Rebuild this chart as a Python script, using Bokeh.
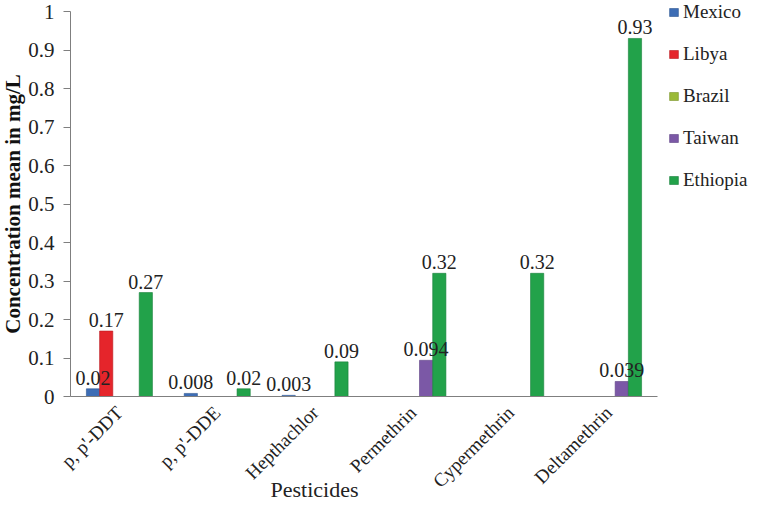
from math import pi
from bokeh.plotting import figure
from bokeh.models import (ColumnDataSource, Range1d, FixedTicker,
                          NumeralTickFormatter, Legend, LegendItem, Label)
from bokeh.core.properties import value
from bokeh.embed import file_html
from bokeh.resources import INLINE

pesticides = ["p, p'-DDT", "p, p'-DDE", "Hepthachlor", "Permethrin", "Cypermethrin", "Deltamethrin"]
countries = ["Mexico", "Libya", "Brazil", "Taiwan", "Ethiopia"]
mexico = [0.02, 0.008, 0.003, 0, 0, 0]
libya = [0.17, 0, 0, 0, 0, 0]
brazil = [0, 0, 0, 0, 0, 0]
taiwan = [0, 0, 0, 0.094, 0, 0.039]
ethiopia = [0.27, 0.02, 0.09, 0.32, 0.32, 0.93]
y_ticks = [0, 0.1, 0.2, 0.3, 0.4, 0.5, 0.6, 0.7, 0.8, 0.9, 1]

series = [mexico, libya, brazil, taiwan, ethiopia]
colors = ["#3D6DB5", "#E5252B", "#9BBA38", "#7B58A6", "#22A24A"]
lines = ["#2C5590", "#B81B20", "#7A9428", "#5E4184", "#17803A"]
offsets = [-0.27, -0.135, 0.0, 0.135, 0.27]
bar_w = 0.135

FONT = "Liberation Serif"
centers = [i + 0.5 for i in range(len(pesticides))]

# The frame covers the whole canvas so that nothing is clipped; the axes are
# placed with fixed_location and limited with bounds.
p = figure(width=748, height=501, x_range=Range1d(-0.7155, 6.9304),
           y_range=Range1d(-0.2727, 1.0286), output_backend="svg",
           toolbar_location=None, min_border_left=0, min_border_right=0,
           min_border_top=0, min_border_bottom=0)
p.outline_line_color = None
p.xgrid.grid_line_color = None
p.ygrid.grid_line_color = None

items = []
sources = []
for name, vals, col, lc, off in zip(countries, series, colors, lines, offsets):
    src = ColumnDataSource(dict(x=[c + off for c in centers], val=vals,
                                lab=[str(v) if v else "" for v in vals]))
    sources.append(src)
    r = p.vbar(x="x", top="val", width=bar_w, source=src,
               fill_color=col, line_color=lc, line_width=0.6)
    items.append(LegendItem(label=name, renderers=[r]))

for src in sources:
    p.text(x="x", y="val", text="lab", source=src,
           text_align="center", text_baseline="alphabetic", y_offset=-11,
           text_font=value(FONT), text_font_size="20px", text_color="#222222")

yax = p.yaxis[0]
yax.fixed_location = 0
yax.ticker = FixedTicker(ticks=y_ticks)
yax.bounds = (0, 1)
yax.formatter = NumeralTickFormatter(format="0.[0]")
yax.axis_label = "Concentration mean in mg/L"
yax.axis_label_text_font = FONT
yax.axis_label_text_font_style = "bold"
yax.axis_label_text_font_size = "21px"
yax.axis_label_text_color = "#111111"
yax.axis_label_standoff = 0
yax.major_label_text_font = FONT
yax.major_label_text_font_size = "21px"
yax.major_label_text_color = "#222222"
yax.major_label_standoff = 9
yax.major_tick_out = 7
yax.major_tick_in = 0
yax.minor_tick_out = 0
yax.minor_tick_in = 0
yax.axis_line_color = "#7F7F7F"
yax.major_tick_line_color = "#7F7F7F"

xax = p.xaxis[0]
xax.fixed_location = 0
xax.bounds = (0, len(pesticides))
xax.ticker = FixedTicker(ticks=centers)
xax.major_label_overrides = {c: name for c, name in zip(centers, pesticides)}
xax.major_label_text_font = FONT
xax.major_label_text_font_size = "19px"
xax.major_label_text_color = "#222222"
xax.major_label_orientation = pi / 4
xax.major_label_standoff = 13
xax.major_tick_out = 0
xax.major_tick_in = 0
xax.minor_tick_out = 0
xax.minor_tick_in = 0
xax.axis_line_color = "#7F7F7F"

p.add_layout(Label(x=314, y=12, x_units="screen", y_units="screen",
                   text="Pesticides", text_align="center", text_baseline="alphabetic",
                   text_font=FONT, text_font_size="22px", text_color="#222222"))

legend = Legend(items=items, location=(668, 310), orientation="vertical",
                padding=0, margin=0, spacing=20, label_height=16,
                glyph_width=11, glyph_height=10, label_standoff=4,
                label_text_font=FONT, label_text_font_size="19px",
                label_text_color="#222222",
                background_fill_alpha=0, border_line_color=None)
p.add_layout(legend, "center")

open("out.html", "w").write(file_html(p, INLINE))
